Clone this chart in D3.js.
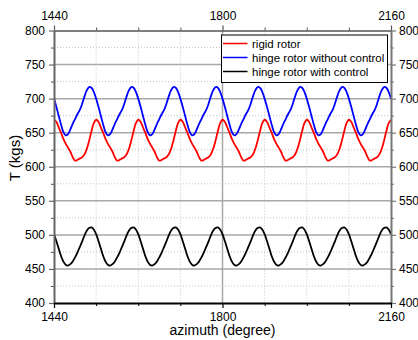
<!DOCTYPE html>
<html>
<head>
<meta charset="utf-8">
<script src="https://cdn.jsdelivr.net/npm/d3@7"></script>
<style>
    body { margin: 0; background: #fff; }
    svg { font-family: "Liberation Sans", Arial, sans-serif; }
</style>
</head>
<body>
<div id="plot"></div>
<script>
"use strict";

// azimuth sampling (degree), one sample every 5 degrees
const azimuth = d3.range(1440, 2160 + 1, 5);

// thrust values, one row per 90 degree cycle
const rigidRotor = [
    669, 666, 658, 650, 641, 634, 628, 622, 614, 609, 610, 612, 614, 618, 626, 638, 652, 664,
    669, 666, 658, 650, 641, 634, 628, 622, 614, 609, 610, 612, 614, 618, 626, 638, 652, 664,
    669, 666, 658, 650, 641, 634, 628, 622, 614, 609, 610, 612, 614, 618, 626, 638, 652, 664,
    669, 666, 658, 650, 641, 634, 628, 622, 614, 609, 610, 612, 614, 618, 626, 638, 652, 664,
    669, 666, 658, 650, 641, 634, 628, 622, 614, 609, 610, 612, 614, 618, 626, 638, 652, 664,
    669, 666, 658, 650, 641, 634, 628, 622, 614, 609, 610, 612, 614, 618, 626, 638, 652, 664,
    669, 666, 658, 650, 641, 634, 628, 622, 614, 609, 610, 612, 614, 618, 626, 638, 652, 664,
    669, 666, 658, 650, 641, 634, 628, 622, 614, 609, 610, 612, 614, 618, 626, 638, 652, 664,
    669
];
const hingeNoControl = [
    700, 688, 675, 662, 651, 646, 648, 655, 663, 670, 677, 683, 692, 703, 712, 717, 716, 710,
    700, 688, 675, 662, 651, 646, 648, 655, 663, 670, 677, 683, 692, 703, 712, 717, 716, 710,
    700, 688, 675, 662, 651, 646, 648, 655, 663, 670, 677, 683, 692, 703, 712, 717, 716, 710,
    700, 688, 675, 662, 651, 646, 648, 655, 663, 670, 677, 683, 692, 703, 712, 717, 716, 710,
    700, 688, 675, 662, 651, 646, 648, 655, 663, 670, 677, 683, 692, 703, 712, 717, 716, 710,
    700, 688, 675, 662, 651, 646, 648, 655, 663, 670, 677, 683, 692, 703, 712, 717, 716, 710,
    700, 688, 675, 662, 651, 646, 648, 655, 663, 670, 677, 683, 692, 703, 712, 717, 716, 710,
    700, 688, 675, 662, 651, 646, 648, 655, 663, 670, 677, 683, 692, 703, 712, 717, 716, 710,
    700
];
const hingeControl = [
    501, 491, 480, 469, 461, 456, 455, 457, 461, 467, 474, 482, 490, 499, 506, 510, 511, 508,
    501, 491, 480, 469, 461, 456, 455, 457, 461, 467, 474, 482, 490, 499, 506, 510, 511, 508,
    501, 491, 480, 469, 461, 456, 455, 457, 461, 467, 474, 482, 490, 499, 506, 510, 511, 508,
    501, 491, 480, 469, 461, 456, 455, 457, 461, 467, 474, 482, 490, 499, 506, 510, 511, 508,
    501, 491, 480, 469, 461, 456, 455, 457, 461, 467, 474, 482, 490, 499, 506, 510, 511, 508,
    501, 491, 480, 469, 461, 456, 455, 457, 461, 467, 474, 482, 490, 499, 506, 510, 511, 508,
    501, 491, 480, 469, 461, 456, 455, 457, 461, 467, 474, 482, 490, 499, 506, 510, 511, 508,
    501, 491, 480, 469, 461, 456, 455, 457, 461, 467, 474, 482, 490, 499, 506, 510, 511, 508,
    501
];

// legend entries
const seriesNames = ["rigid rotor", "hinge rotor without control", "hinge rotor with control"];
const seriesColors = ["#ff0000", "#0000ff", "#000000"];

// ticks
const xMajorTicks = [1440, 1800, 2160];
const xMinorTicks = [1530, 1620, 1710, 1890, 1980, 2070];
const yMajorTicks = [400, 450, 500, 550, 600, 650, 700, 750, 800];
const yMinorTicks = [425, 475, 525, 575, 625, 675, 725, 775];

const outerWidth = 418, outerHeight = 340;
const margin = { top: 30.5, right: 27, bottom: 37, left: 54 };
const width = outerWidth - margin.left - margin.right;
const height = outerHeight - margin.top - margin.bottom;

const svg = d3.select("#plot").append("svg")
    .attr("width", outerWidth)
    .attr("height", outerHeight);

const g = svg.append("g")
    .attr("transform", `translate(${margin.left},${margin.top})`);

const x = d3.scaleLinear().domain([1440, 2160]).range([0, width]);
const y = d3.scaleLinear().domain([400, 800]).range([height, 0]);
const fmt = d3.format("d");

// grid: solid at major values, dotted at minor ones
g.append("g").selectAll("line")
    .data(yMajorTicks.slice(1, -1))
    .join("line")
    .attr("x1", 0).attr("x2", width)
    .attr("y1", d => y(d)).attr("y2", d => y(d))
    .attr("stroke", "#a8a8a8").attr("stroke-width", 1.5);
g.append("g").selectAll("line")
    .data(yMinorTicks)
    .join("line")
    .attr("x1", 0).attr("x2", width)
    .attr("y1", d => y(d)).attr("y2", d => y(d))
    .attr("stroke", "#c4c4c4").attr("stroke-dasharray", "1,2");
g.append("g").selectAll("line")
    .data(xMajorTicks.slice(1, -1))
    .join("line")
    .attr("x1", d => x(d)).attr("x2", d => x(d))
    .attr("y1", 0).attr("y2", height)
    .attr("stroke", "#a8a8a8").attr("stroke-width", 1.5);
g.append("g").selectAll("line")
    .data(xMinorTicks)
    .join("line")
    .attr("x1", d => x(d)).attr("x2", d => x(d))
    .attr("y1", 0).attr("y2", height)
    .attr("stroke", "#c4c4c4").attr("stroke-dasharray", "1,2");

// data lines
g.append("clipPath").attr("id", "clip")
    .append("rect").attr("width", width).attr("height", height);

const line = d3.line()
    .x((d, i) => x(azimuth[i]))
    .y(d => y(d))
    .curve(d3.curveCatmullRom);

[rigidRotor, hingeNoControl, hingeControl].forEach((series, k) => {
    g.append("path")
        .datum(series)
        .attr("clip-path", "url(#clip)")
        .attr("fill", "none")
        .attr("stroke", seriesColors[k])
        .attr("stroke-width", 1.8)
        .attr("d", line);
});

// axes
function styleAxis(sel, color, lineWidth) {
    sel.select(".domain").attr("stroke", color).attr("stroke-width", lineWidth);
    sel.selectAll(".tick line").attr("stroke", color).attr("stroke-width", 1.2);
    sel.selectAll(".tick text").attr("fill", "#000").style("font-size", "12px");
}

// minor tick marks (no labels)
g.append("g").call(d3.axisLeft(y).tickValues(yMinorTicks).tickSize(3).tickFormat(""))
    .call(s => s.select(".domain").remove())
    .selectAll("line").attr("stroke", "#555");
g.append("g").attr("transform", `translate(${width},0)`)
    .call(d3.axisRight(y).tickValues(yMinorTicks).tickSize(3).tickFormat(""))
    .call(s => s.select(".domain").remove())
    .selectAll("line").attr("stroke", "#777");
g.append("g").attr("transform", `translate(0,${height})`)
    .call(d3.axisBottom(x).tickValues(xMinorTicks).tickSize(3).tickFormat(""))
    .call(s => s.select(".domain").remove())
    .selectAll("line").attr("stroke", "#000");
g.append("g")
    .call(d3.axisTop(x).tickValues(xMinorTicks).tickSize(3).tickFormat(""))
    .call(s => s.select(".domain").remove())
    .selectAll("line").attr("stroke", "#555");

// major axes with labels
g.append("g")
    .call(d3.axisLeft(y).tickValues(yMajorTicks).tickFormat(fmt).tickSize(5).tickSizeOuter(0).tickPadding(4))
    .call(styleAxis, "#666", 2);
g.append("g").attr("transform", `translate(${width},0)`)
    .call(d3.axisRight(y).tickValues(yMajorTicks).tickFormat(fmt).tickSize(5).tickSizeOuter(0).tickPadding(3))
    .call(styleAxis, "#777", 2);
g.append("g").attr("transform", `translate(0,${height})`)
    .call(d3.axisBottom(x).tickValues(xMajorTicks).tickFormat(fmt).tickSize(5).tickSizeOuter(0).tickPadding(4))
    .call(styleAxis, "#000", 2);
g.append("g")
    .call(d3.axisTop(x).tickValues(xMajorTicks).tickFormat(fmt).tickSize(5).tickSizeOuter(0).tickPadding(6))
    .call(styleAxis, "#555", 1.5);

// axis titles
svg.append("text")
    .attr("x", margin.left + width / 2)
    .attr("y", 335)
    .attr("text-anchor", "middle")
    .style("font-size", "14px")
    .text("azimuth (degree)");

svg.append("text")
    .attr("transform", "translate(20,158) rotate(-90)")
    .attr("text-anchor", "middle")
    .style("font-size", "15px")
    .text("T (kgs)");

// legend
const legend = svg.append("g").attr("transform", "translate(221.5,35)");
legend.append("rect")
    .attr("width", 166).attr("height", 47.5)
    .attr("fill", "#fff").attr("stroke", "#000").attr("stroke-width", 1);

seriesNames.forEach((name, i) => {
    const rowY = 8.5 + i * 14;
    legend.append("line")
        .attr("x1", 1.5).attr("x2", 26)
        .attr("y1", rowY).attr("y2", rowY)
        .attr("stroke", seriesColors[i]).attr("stroke-width", 1.5);
    legend.append("text")
        .attr("x", 30.5).attr("y", rowY + 4)
        .style("font-size", "11.5px")
        .text(name);
});
</script>
</body>
</html>
